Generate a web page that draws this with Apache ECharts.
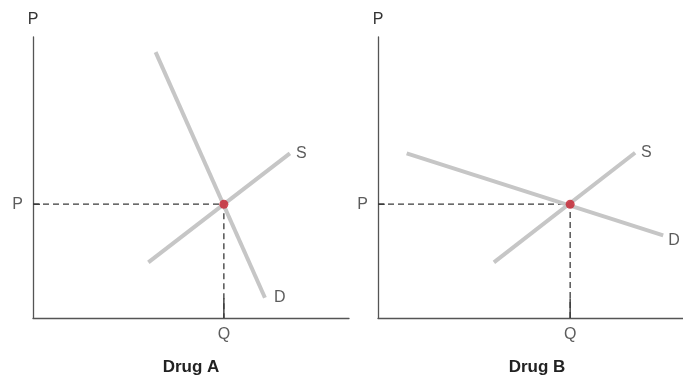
<!DOCTYPE html>
<html lang="en">
<head>
    <meta charset="UTF-8">
    <title>Drug A / Drug B</title>
    <style>
        html, body { margin: 0; padding: 0; background: #fff; }
        #main { width: 683px; height: 380px; }
    </style>
</head>
<body>
    <div id="main"></div>
    <script src="https://cdn.jsdelivr.net/npm/echarts@6/dist/echarts.min.js"></script>
    <script>
        // data (both panels on a 0-100 scale)
        var panelTitles = ['Drug A', 'Drug B'];
        var demandA = [[38.8, 94.6], [73.4, 7.2]];
        var supplyA = [[36.5, 19.8], [81.3, 58.6]];
        var equilA = [60.4, 40.5];
        var demandB = [[9.4, 58.6], [93.5, 29.4]];
        var supplyB = [[38.0, 19.8], [84.3, 58.8]];
        var equilB = [63.0, 40.5];

        var font = 'Liberation Sans, Arial, sans-serif';
        var curveColor = '#c6c6c6';
        var axisColor = '#555';
        var textStyle = { fontFamily: font, fontSize: 16, color: '#333' };

        var myChart = echarts.init(document.getElementById('main'));

        function axis(i, type) {
            return {
                type: 'value', gridIndex: i, min: 0, max: 100,
                axisLine: { show: true, lineStyle: { color: axisColor, width: 1.3 } },
                axisTick: { show: false },
                axisLabel: { show: false },
                splitLine: { show: false },
                name: type === 'y' ? 'P' : '',
                nameLocation: 'end',
                nameGap: 9,
                nameTextStyle: textStyle
            };
        }

        // invisible point carrying a text label
        function tag(i, p, text, pos, dist, offset) {
            return {
                type: 'scatter', xAxisIndex: i, yAxisIndex: i,
                data: [p], symbolSize: 0, silent: true, z: 6,
                label: Object.assign({ show: true, formatter: text, position: pos, distance: dist, offset: offset || [0, 0] }, textStyle)
            };
        }

        function curve(i, data) {
            return {
                type: 'line', xAxisIndex: i, yAxisIndex: i, data: data,
                symbol: 'none', silent: true, z: 3,
                lineStyle: { color: curveColor, width: 4 }
            };
        }

        function guides(i, eq) {
            return [{
                type: 'line', xAxisIndex: i, yAxisIndex: i,
                data: [[0, eq[1]], eq, [eq[0], 0]],
                symbol: 'none', silent: true, z: 2,
                lineStyle: { color: '#3a3a3a', width: 1.3, type: [6, 4] }
            }, {
                type: 'line', xAxisIndex: i, yAxisIndex: i,
                data: [[0, eq[1]], [2.2, eq[1]]],
                symbol: 'none', silent: true, z: 2,
                lineStyle: { color: '#3a3a3a', width: 1.4 }
            }, {
                type: 'line', xAxisIndex: i, yAxisIndex: i,
                data: [[eq[0], 0], [eq[0], 7]],
                symbol: 'none', silent: true, z: 2,
                lineStyle: { color: '#3a3a3a', width: 1.4 }
            }, {
                type: 'scatter', xAxisIndex: i, yAxisIndex: i,
                data: [eq], symbolSize: 9, silent: true, z: 5,
                itemStyle: { color: '#c61f2d' }
            },
            tag(i, [0, eq[1]], 'P', 'left', 10),
            tag(i, [eq[0], 0], 'Q', 'bottom', 9)];
        }

        var titleStyle = { fontFamily: font, fontSize: 17, fontWeight: 'bold', color: '#222' };

        var option = {
            animation: false,
            title: [
                { text: panelTitles[0], left: 191, top: 359, padding: 0, textAlign: 'center', textStyle: titleStyle },
                { text: panelTitles[1], left: 537, top: 359, padding: 0, textAlign: 'center', textStyle: titleStyle }
            ],
            grid: [
                { left: 33, top: 37, width: 316, height: 281 },
                { left: 378, top: 37, width: 305, height: 281 }
            ],
            xAxis: [axis(0, 'x'), axis(1, 'x')],
            yAxis: [axis(0, 'y'), axis(1, 'y')],
            series: [].concat(
                [curve(0, demandA), curve(0, supplyA),
                 tag(0, demandA[1], 'D', 'right', 9), tag(0, supplyA[1], 'S', 'right', 6)],
                guides(0, equilA),
                [curve(1, demandB), curve(1, supplyB),
                 tag(1, demandB[1], 'D', 'right', 5, [0, 5]), tag(1, supplyB[1], 'S', 'right', 6)],
                guides(1, equilB)
            )
        };

        myChart.setOption(option);
    </script>
</body>
</html>
